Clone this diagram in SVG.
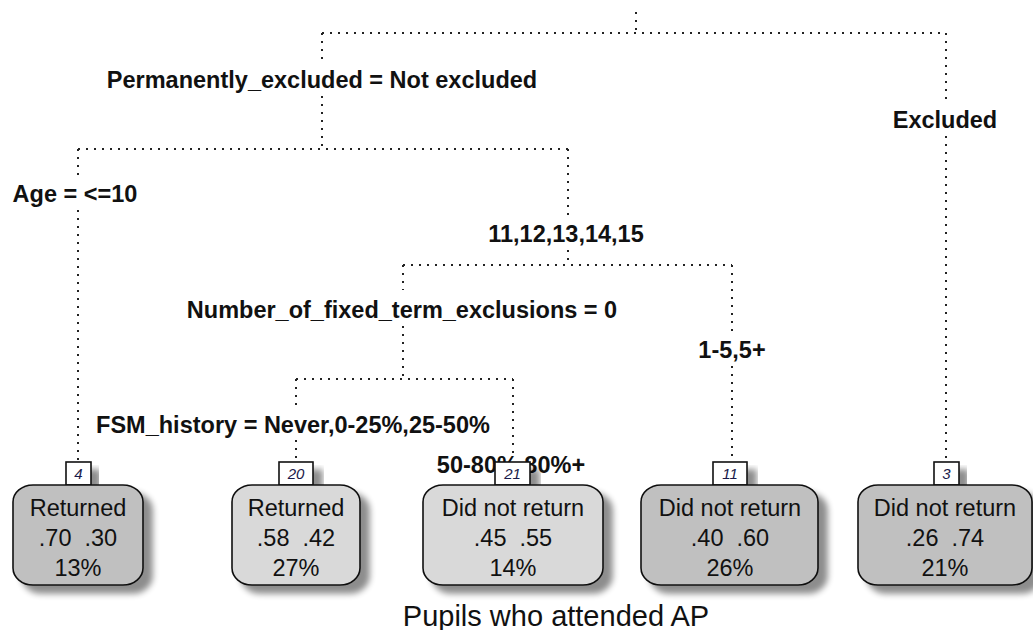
<svg xmlns="http://www.w3.org/2000/svg" width="1033" height="630" viewBox="0 0 1033 630">
<defs>
<filter id="sh" x="-20%" y="-20%" width="150%" height="150%">
<feGaussianBlur in="SourceAlpha" stdDeviation="3"/>
<feOffset dx="9" dy="8" result="b"/>
<feComponentTransfer><feFuncA type="linear" slope="0.45"/></feComponentTransfer>
<feMerge><feMergeNode/><feMergeNode in="SourceGraphic"/></feMerge>
</filter>
<style>
.c{fill:none;stroke:#222;stroke-width:2;stroke-dasharray:2 6}
.lb{font-family:"Liberation Sans",Arial,sans-serif;font-weight:bold;font-size:23.5px;fill:#111;text-anchor:middle}
.lf{stroke:#111;stroke-width:1.6}
.dk{fill:#c0c0c0}
.lt{fill:#d9d9d9}
.tx{font-family:"Liberation Sans",Arial,sans-serif;font-size:23.5px;fill:#111;text-anchor:middle}
.nb{fill:#fff;stroke:#111;stroke-width:1.6}
.nt{font-family:"Liberation Sans",Arial,sans-serif;font-style:italic;font-size:15px;fill:#1a1a4a;text-anchor:middle}
</style>
</defs>
<rect width="1033" height="630" fill="#fff"/>
<g id="connectors">
<path class="c" d="M636 12V33"/>
<path class="c" d="M322 33H946"/>
<path class="c" d="M322 33V60"/>
<path class="c" d="M322 96V149"/>
<path class="c" d="M78 149H568"/>
<path class="c" d="M78 149V175"/>
<path class="c" d="M78 210V462"/>
<path class="c" d="M568 149V215"/>
<path class="c" d="M568 250V265"/>
<path class="c" d="M403 265H732"/>
<path class="c" d="M403 265V290"/>
<path class="c" d="M403 326V379"/>
<path class="c" d="M296 379H513"/>
<path class="c" d="M296 379V405"/>
<path class="c" d="M296 440V462"/>
<path class="c" d="M513 379V455"/>
<path class="c" d="M732 265V335"/>
<path class="c" d="M732 366V462"/>
<path class="c" d="M946 33V100"/>
<path class="c" d="M946 136V462"/>
</g>
<g id="split-permanently-excluded"><text class="lb" x="322" y="88">Permanently_excluded = Not excluded</text></g>
<g id="split-excluded"><text class="lb" x="945" y="128">Excluded</text></g>
<g id="split-age"><text class="lb" x="75" y="202">Age = &lt;=10</text></g>
<g id="split-age-right"><text class="lb" x="566" y="242">11,12,13,14,15</text></g>
<g id="split-fixed-term"><text class="lb" x="402" y="318">Number_of_fixed_term_exclusions = 0</text></g>
<g id="split-fixed-term-right"><text class="lb" x="732" y="358">1-5,5+</text></g>
<g id="split-fsm"><text class="lb" x="293" y="433">FSM_history = Never,0-25%,25-50%</text></g>
<g id="split-fsm-right"><text class="lb" x="511" y="473">50-80%,80%+</text></g>
<g id="leaf-4">
<rect class="nb" x="66" y="462" width="25" height="23" filter="url(#sh)"/>
<text class="nt" x="78.5" y="479">4</text>
<rect class="lf dk" x="13" y="485" width="130" height="100" rx="20" ry="17" filter="url(#sh)"/>
<text class="tx" x="78" y="516">Returned</text>
<text class="tx" x="78" y="546" xml:space="preserve">.70  .30</text>
<text class="tx" x="78" y="576">13%</text>
</g>
<g id="leaf-20">
<rect class="nb" x="279" y="462" width="34" height="23" filter="url(#sh)"/>
<text class="nt" x="296" y="479">20</text>
<rect class="lf lt" x="232" y="485" width="128" height="100" rx="20" ry="17" filter="url(#sh)"/>
<text class="tx" x="296" y="516">Returned</text>
<text class="tx" x="296" y="546" xml:space="preserve">.58  .42</text>
<text class="tx" x="296" y="576">27%</text>
</g>
<g id="leaf-21">
<rect class="nb" x="495" y="462" width="35" height="23" filter="url(#sh)"/>
<text class="nt" x="512.5" y="479">21</text>
<rect class="lf lt" x="423" y="485" width="180" height="100" rx="20" ry="17" filter="url(#sh)"/>
<text class="tx" x="513" y="516">Did not return</text>
<text class="tx" x="513" y="546" xml:space="preserve">.45  .55</text>
<text class="tx" x="513" y="576">14%</text>
</g>
<g id="leaf-11">
<rect class="nb" x="713" y="462" width="34" height="23" filter="url(#sh)"/>
<text class="nt" x="730" y="479">11</text>
<rect class="lf dk" x="641" y="485" width="177" height="100" rx="20" ry="17" filter="url(#sh)"/>
<text class="tx" x="730" y="516">Did not return</text>
<text class="tx" x="730" y="546" xml:space="preserve">.40  .60</text>
<text class="tx" x="730" y="576">26%</text>
</g>
<g id="leaf-3">
<rect class="nb" x="934" y="462" width="25" height="23" filter="url(#sh)"/>
<text class="nt" x="946.5" y="479">3</text>
<rect class="lf dk" x="858" y="485" width="174" height="100" rx="20" ry="17" filter="url(#sh)"/>
<text class="tx" x="945" y="516">Did not return</text>
<text class="tx" x="945" y="546" xml:space="preserve">.26  .74</text>
<text class="tx" x="945" y="576">21%</text>
</g>
<g id="title"><text x="556" y="626" font-family="Liberation Sans, Arial, sans-serif" font-size="29" fill="#111" text-anchor="middle">Pupils who attended AP</text></g>
</svg>
